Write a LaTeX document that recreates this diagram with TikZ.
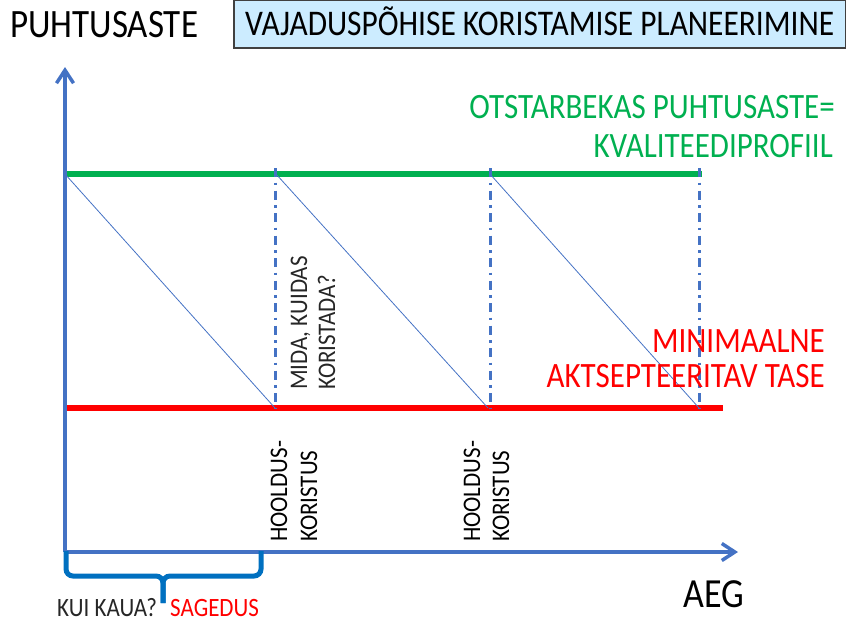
\documentclass[tikz,border=0pt]{standalone}
\usepackage{fontspec}
\setmainfont{Carlito}
\usetikzlibrary{arrows.meta}
\definecolor{axisblue}{RGB}{68,114,196}
\definecolor{braceblue}{RGB}{0,112,192}
\definecolor{okgreen}{RGB}{0,176,80}
\definecolor{boxfill}{RGB}{204,236,255}
\definecolor{boxline}{RGB}{64,64,64}
\definecolor{darktext}{RGB}{38,38,38}
\begin{document}
\begin{tikzpicture}[x=1pt,y=-1pt,
  txt/.style={inner sep=0pt, yscale=1.15},
  rtxt/.style={inner sep=0pt, rotate=90, yscale=1.1, anchor=base west, font=\fontsize{23}{23}\selectfont},
  axis/.style={axisblue, line width=3.5pt, -{Straight Barb[length=13pt,width=17pt,line width=3.5pt]}},
  level/.style={line width=6pt},
  marker/.style={axisblue, line width=3pt, dash pattern=on 9pt off 5.5pt on 2.5pt off 5.5pt},
  decay/.style={axisblue, line width=0.8pt},
  brace/.style={braceblue, line width=5pt, rounded corners=7pt}
]
\useasboundingbox (0,0) rectangle (846,621);

% title box
\draw[boxline, fill=boxfill, line width=1.2pt] (234,0.6) rectangle (845.4,48);
\node[txt, anchor=base west, font=\fontsize{31.4}{31.4}\selectfont, text=black] (title) at (245,35) {VAJADUSPÕHISE KORISTAMISE PLANEERIMINE};
\node[txt, anchor=base west, font=\fontsize{35}{35}\selectfont, text=black] (ylabel) at (10,37) {PUHTUSASTE};

% key points
\coordinate (O) at (65,552);
\coordinate (Ytop) at (65,67);
\coordinate (Xend) at (738,552);
\coordinate (G0) at (65,174);
\coordinate (G1) at (276,174);
\coordinate (G2) at (490,174);
\coordinate (Gend) at (702,174);
\coordinate (R0) at (65,408);
\coordinate (R1) at (275,408);
\coordinate (R2) at (488,408);
\coordinate (R2m) at (490,408);
\coordinate (R3) at (699,408);
\coordinate (Rend) at (723,408);
\coordinate (M1) at (275,168);
\coordinate (M2) at (490,168);
\coordinate (M3) at (699,168);

% levels
\draw[level, okgreen] (G0) -- (Gend);
\draw[level, red] (R0) -- (Rend);

% decay lines
\draw[decay] (G0) -- (R1);
\draw[decay] (G1) -- (R2);
\draw[decay] (G2) -- (R3);

% dash-dot markers
\draw[marker] (M1) -- (R1);
\draw[marker] (M2) -- (R2m);
\draw[marker] (M3) -- (R3);

% axes
\draw[axis] (O) -- (Ytop);
\draw[axis] (O) -- (Xend);

% brace
\coordinate (B1) at (66,551);
\coordinate (B2) at (261,551);
\coordinate (BL) at (66,576);
\coordinate (BR) at (261,576);
\coordinate (Bmid) at (163,576);
\coordinate (Btip) at (163,603);
\draw[brace] (B1) -- (BL) -- (Bmid) -- (Btip);
\draw[brace] (B2) -- (BR) -- (Bmid) -- (Btip);

% labels
\node[txt, anchor=base east, font=\fontsize{31}{31}\selectfont, text=okgreen] (goal1) at (835,118) {OTSTARBEKAS PUHTUSASTE=};
\node[txt, anchor=base east, font=\fontsize{31}{31}\selectfont, text=okgreen] (goal2) at (833,157) {KVALITEEDIPROFIIL};
\node[txt, anchor=base east, font=\fontsize{31}{31}\selectfont, text=red] (min1) at (825,352) {MINIMAALNE};
\node[txt, anchor=base east, font=\fontsize{31}{31}\selectfont, text=red] (min2) at (825,387) {AKTSEPTEERITAV TASE};
\node[txt, anchor=base west, font=\fontsize{36}{36}\selectfont, text=black] (xlabel) at (683,607) {AEG};
\node[txt, anchor=base west, font=\fontsize{23}{23}\selectfont, text=darktext] (kui) at (57,616) {KUI KAUA?};
\node[txt, anchor=base west, font=\fontsize{23}{23}\selectfont, text=red] (sag) at (170,616) {SAGEDUS};

% rotated labels
\node[rtxt, text=darktext] (mida1) at (307,390) {MIDA, KUIDAS};
\node[rtxt, text=darktext] (mida2) at (335,390) {KORISTADA?};
\node[rtxt, text=black] (hk1a) at (287,542) {HOOLDUS-};
\node[rtxt, text=black] (hk1b) at (317,542) {KORISTUS};
\node[rtxt, text=black] (hk2a) at (480,542) {HOOLDUS-};
\node[rtxt, text=black] (hk2b) at (509,542) {KORISTUS};
\end{tikzpicture}
\end{document}
